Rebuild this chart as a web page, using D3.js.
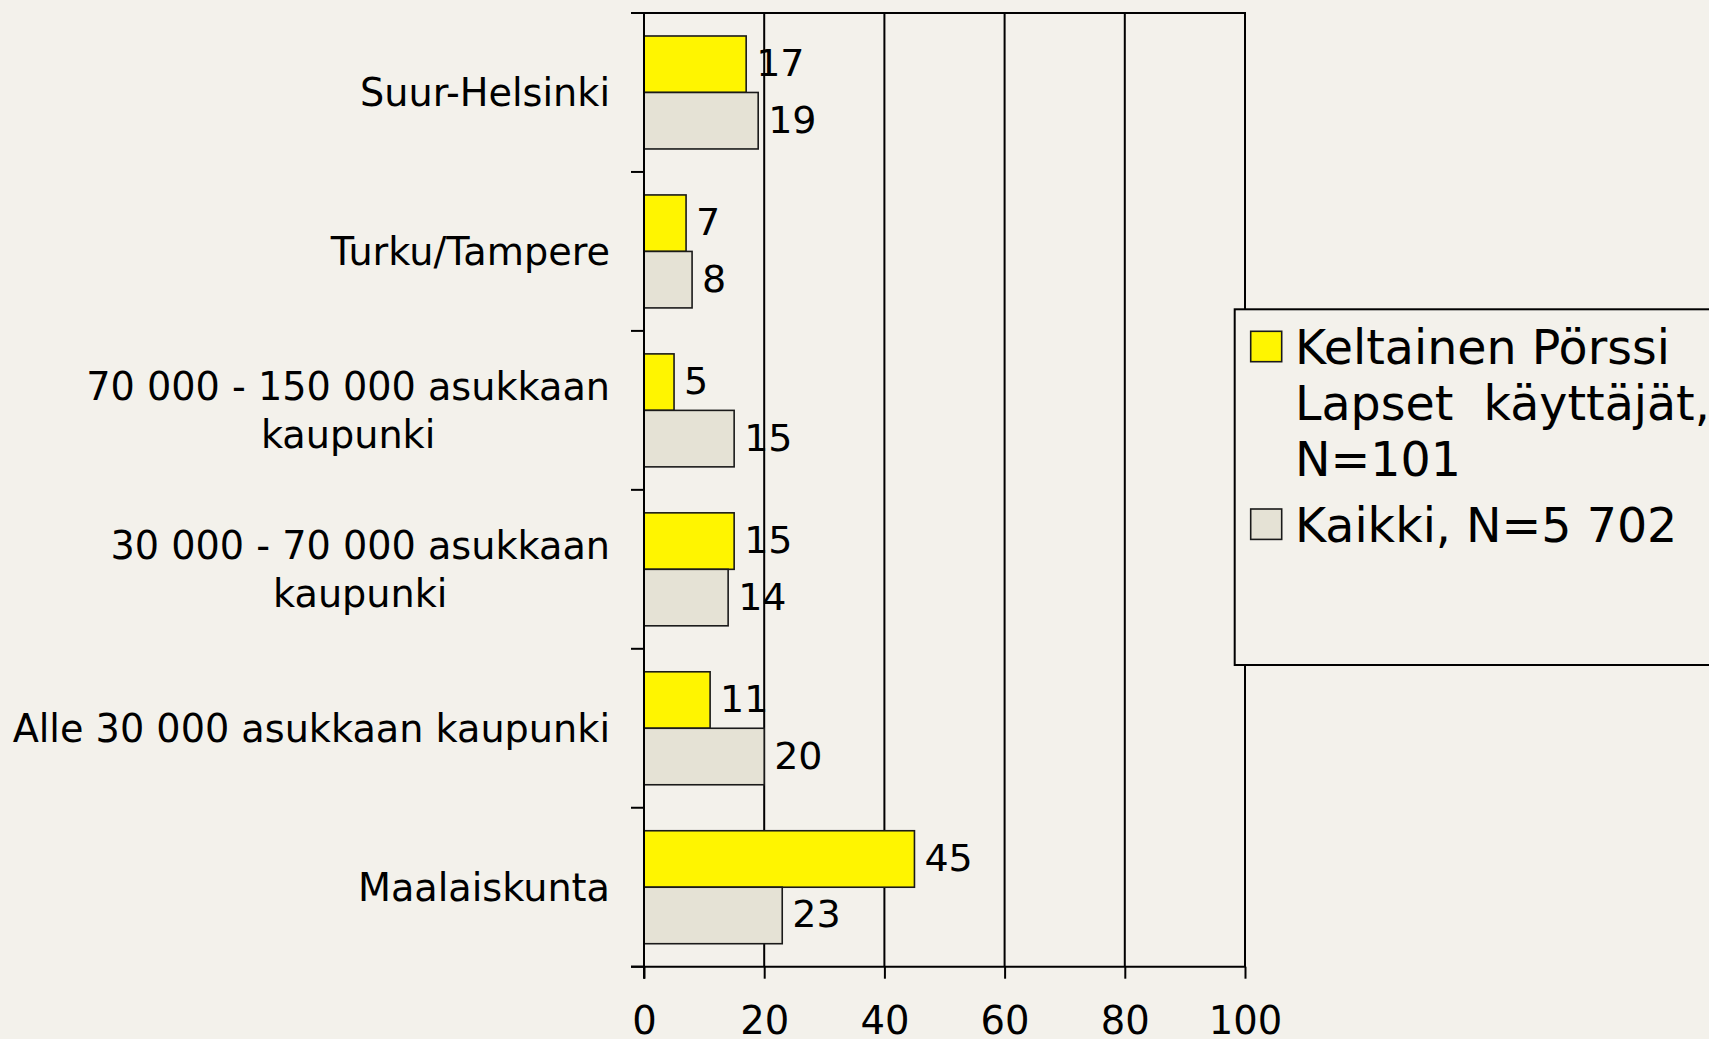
<!DOCTYPE html>
<html>
<head>
<meta charset="utf-8">
<script src="https://cdn.jsdelivr.net/npm/d3@7"></script>
<style>
  html, body { margin: 0; padding: 0; background: #F3F1EB; overflow: hidden; }
  svg { display: block; font-family: "DejaVu Sans", Verdana, sans-serif; }
</style>
</head>
<body>
<svg id="chart" width="1709" height="1039"></svg>
<script>
// ---- Data ----
const categories = [
  ["Suur-Helsinki"],
  ["Turku/Tampere"],
  ["70 000 - 150 000 asukkaan", "kaupunki"],
  ["30 000 - 70 000 asukkaan", "kaupunki"],
  ["Alle 30 000 asukkaan kaupunki"],
  ["Maalaiskunta"]
];
const seriesNames = ["Keltainen Pörssi Lapset käyttäjät, N=101", "Kaikki, N=5 702"];
const legendLines = [
  ["Keltainen Pörssi", "Lapset  käyttäjät,", "N=101"],
  ["Kaikki, N=5 702"]
];
const keltainen = [17, 7, 5, 15, 11, 45];
const kaikki = [19, 8, 15, 14, 20, 23];
const xTicks = [0, 20, 40, 60, 80, 100];

const colors = ["#FFF500", "#E5E2D5"];
const values = [keltainen, kaikki];

// ---- Layout ----
const svg = d3.select("#chart");
const pLeft = 644, pRight = 1245, pTop = 13, pBottom = 966.7;

const x = d3.scaleLinear().domain([0, 100]).range([pLeft, pRight]);
const catKeys = categories.map(c => c.join(" "));
const y = d3.scaleBand().domain(catKeys).range([pTop, pBottom]).paddingInner(0).paddingOuter(0);
const ySub = d3.scaleBand().domain([0, 1]).range([0, y.bandwidth()]).paddingInner(0).paddingOuter(0.407);

// gridlines (vertical)
const g = svg.append("g");
xTicks.forEach(t => {
  if (t > 0) {
    g.append("line").attr("x1", x(t)).attr("x2", x(t)).attr("y1", pTop).attr("y2", pBottom)
      .attr("stroke", "#000").attr("stroke-width", 2);
  }
});

// x axis via d3
const xAxis = d3.axisBottom(x).tickValues(xTicks).tickSize(12).tickPadding(28).tickFormat(d3.format("d"));
const gx = svg.append("g").attr("transform", `translate(0,${pBottom})`).call(xAxis);
gx.select(".domain").remove();
gx.selectAll(".tick line").attr("stroke", "#000").attr("stroke-width", 2);
gx.selectAll(".tick text").attr("font-size", 38.5).attr("fill", "#000")
  .attr("font-family", "DejaVu Sans").attr("dy", "0.71em");

// bottom axis line and top border
svg.append("line").attr("x1", 631).attr("x2", pRight + 1).attr("y1", pBottom).attr("y2", pBottom)
  .attr("stroke", "#000").attr("stroke-width", 2);
svg.append("line").attr("x1", 631).attr("x2", pRight + 1).attr("y1", pTop).attr("y2", pTop)
  .attr("stroke", "#000").attr("stroke-width", 2);

// y axis ticks at category boundaries
const boundaries = catKeys.map(k => y(k)).concat([pBottom]);
boundaries.forEach(b => {
  svg.append("line").attr("x1", 631).attr("x2", pLeft).attr("y1", b).attr("y2", b)
    .attr("stroke", "#000").attr("stroke-width", 2);
});

// bars
catKeys.forEach((k, i) => {
  [0, 1].forEach(s => {
    const v = values[s][i];
    const by = y(k) + ySub(s);
    svg.append("rect")
      .attr("x", x(0)).attr("y", by)
      .attr("width", x(v) - x(0)).attr("height", ySub.bandwidth())
      .attr("fill", colors[s]).attr("stroke", "#1a1a1a").attr("stroke-width", 1.6);
    svg.append("text")
      .attr("x", x(v) + 10).attr("y", by + ySub.bandwidth() / 2 + 12)
      .attr("font-size", 38).attr("fill", "#000")
      .text(v);
  });
});

// y axis line
svg.append("line").attr("x1", pLeft).attr("x2", pLeft).attr("y1", pTop).attr("y2", pBottom + 12)
  .attr("stroke", "#000").attr("stroke-width", 2);

// category labels
const labelRight = 610;
categories.forEach((lines, i) => {
  const cy = y(catKeys[i]) + y.bandwidth() / 2;
  const lh = 48;
  const t = svg.append("text").attr("font-size", 38.2).attr("fill", "#000").attr("text-anchor", "middle");
  const spans = lines.map(ln => t.append("tspan").text(ln));
  const widths = spans.map(sp => sp.node().getComputedTextLength());
  const maxW = d3.max(widths);
  const cx = labelRight - maxW / 2;
  const y0 = cy - (lines.length - 1) * lh / 2 + 13.5;
  spans.forEach((sp, j) => sp.attr("x", cx).attr("y", y0 + j * lh));
});

// legend
const lg = svg.append("g");
lg.append("rect").attr("x", 1234.7).attr("y", 309.3).attr("width", 600).attr("height", 355.7)
  .attr("fill", "#F3F1EB").attr("stroke", "#000").attr("stroke-width", 2);
const legendY = [331.3, 509];
const baseY = [[364, 420, 476], [541.7]];
legendLines.forEach((lines, s) => {
  lg.append("rect").attr("x", 1250.7).attr("y", legendY[s]).attr("width", 31).attr("height", 30.4)
    .attr("fill", colors[s]).attr("stroke", "#1a1a1a").attr("stroke-width", 1.6);
  lines.forEach((ln, j) => {
    lg.append("text").attr("x", 1295).attr("y", baseY[s][j])
      .attr("font-size", 47.5).attr("fill", "#000").style("white-space", "pre").text(ln);
  });
});
</script>
</body>
</html>
